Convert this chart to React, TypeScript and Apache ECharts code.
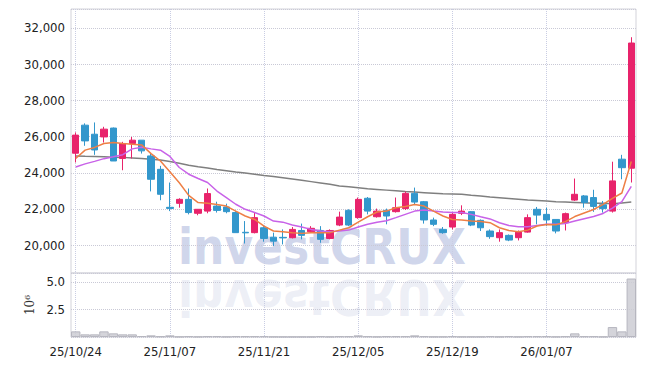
import { useEffect, useRef } from 'react';
import * as echarts from 'echarts';

const dates = [
  '25/10/24', '25/10/27', '25/10/28', '25/10/29', '25/10/30', '25/10/31', '25/11/03', '25/11/04', '25/11/05', '25/11/06',
  '25/11/07', '25/11/10', '25/11/11', '25/11/12', '25/11/13', '25/11/14', '25/11/17', '25/11/18', '25/11/19', '25/11/20',
  '25/11/21', '25/11/24', '25/11/25', '25/11/26', '25/11/27', '25/11/28', '25/12/01', '25/12/02', '25/12/03', '25/12/04',
  '25/12/05', '25/12/08', '25/12/09', '25/12/10', '25/12/11', '25/12/12', '25/12/15', '25/12/16', '25/12/17', '25/12/18',
  '25/12/19', '25/12/22', '25/12/23', '25/12/24', '25/12/26', '25/12/29', '25/12/30', '26/01/02', '26/01/05', '26/01/06',
  '26/01/07', '26/01/08', '26/01/09', '26/01/12', '26/01/13', '26/01/14', '26/01/15', '26/01/16', '26/01/19', '26/01/20',
];

const opens = [
  25080, 26630, 26130, 25980, 26470, 24790, 25620, 25800, 24930, 24190,
  22090, 22310, 22530, 21760, 21880, 22160, 22110, 21800, 20710, 20690,
  20960, 20440, 20430, 20410, 20810, 20740, 20810, 20370, 21110, 21920,
  21520, 22590, 21570, 21920, 21850, 22020, 22860, 22400, 21390, 20870,
  21000, 21760, 21850, 21370, 20780, 20410, 20540, 20410, 20720, 21980,
  21700, 21420, 21240, 22490, 22720, 22630, 22230, 21880, 24750, 24250,
];
const closes = [
  26080, 25760, 25260, 26410, 24650, 25620, 25800, 25210, 23640, 22810,
  22030, 22530, 21800, 21980, 22850, 21920, 21850, 20690, 20680, 21520,
  20370, 20220, 20400, 20870, 20540, 20930, 20320, 20810, 21550, 21110,
  22530, 21880, 21880, 21610, 22070, 22860, 22380, 21390, 21150, 20690,
  21700, 21880, 21110, 20960, 20470, 20690, 20280, 20720, 21520, 21660,
  21390, 20780, 21740, 22810, 22350, 22140, 22020, 23550, 24280, 31170,
];
const lows = [
  24570, 25490, 24990, 25670, 24650, 24140, 24790, 25060, 22970, 22480,
  21880, 22070, 21700, 21650, 21760, 21800, 21760, 20690, 20090, 20650,
  20190, 19950, 20040, 20370, 20320, 20690, 20130, 20320, 21050, 21050,
  21460, 21700, 21520, 21150, 21800, 21940, 22260, 21190, 21050, 20630,
  20870, 21660, 21050, 20780, 20350, 20190, 20220, 20260, 20690, 21150,
  21050, 20650, 20810, 22440, 22070, 21840, 21800, 21800, 23640, 23460,
];
const highs = [
  26230, 26730, 26780, 26540, 26500, 25710, 25980, 25800, 25060, 24380,
  23460, 22590, 23130, 21980, 23130, 22400, 22290, 21880, 21330, 21800,
  21050, 20690, 20870, 21000, 21190, 21050, 21050, 20870, 21850, 21980,
  22630, 22660, 22020, 22020, 22630, 22960, 23180, 22440, 21520, 21000,
  21800, 22200, 21880, 21420, 20870, 20870, 20590, 20810, 21700, 22110,
  22070, 21420, 21800, 23680, 22770, 23060, 22440, 24610, 24990, 31490,
];

const ma5 = [
  24790, 25250, 25400, 25620, 25670, 25620, 25580, 25540, 25060, 24650,
  24050, 23450, 22750, 22350, 22310, 22250, 22160, 21880, 21610, 21420,
  21050, 20780, 20740, 20690, 20650, 20690, 20690, 20690, 20830, 20960,
  21270, 21570, 21830, 21880, 22070, 22130, 22250, 22160, 21880, 21610,
  21420, 21390, 21330, 21300, 21240, 20960, 20810, 20740, 20830, 21060,
  21140, 21120, 21300, 21580, 21780, 21970, 22250, 22580, 22880, 24620,
];
const ma10 = [
  24320, 24490, 24630, 24780, 24880, 25000, 25320, 25410, 25320, 25250,
  24900, 24290, 23920, 23680, 23460, 22990, 22630, 22260, 21980, 21800,
  21610, 21330, 21270, 21110, 21000, 20870, 20780, 20740, 20780, 20830,
  21000, 21150, 21270, 21350, 21520, 21700, 21880, 21940, 21880, 21830,
  21800, 21800, 21700, 21570, 21450, 21240, 21090, 21020, 21020, 21090,
  21150, 21150, 21200, 21330, 21460, 21580, 21750, 22050, 22400, 23250,
];
const ma60 = [
  24930, 24910, 24900, 24880, 24860, 24850, 24820, 24790, 24750, 24700,
  24620, 24520, 24420, 24330, 24260, 24180, 24110, 24040, 23980, 23920,
  23850, 23790, 23720, 23650, 23580, 23510, 23440, 23360, 23270, 23220,
  23170, 23110, 23080, 23040, 23000, 22960, 22930, 22900, 22870, 22840,
  22830, 22810, 22760, 22720, 22660, 22620, 22580, 22540, 22500, 22470,
  22440, 22400, 22380, 22360, 22340, 22320, 22310, 22290, 22330, 22380,
];
const volumes = [
  510000, 240000, 240000, 510000, 330000, 240000, 240000, 90000, 150000, 60000,
  150000, 30000, 70000, 30000, 70000, 70000, 30000, 70000, 70000, 70000,
  70000, 30000, 20000, 20000, 20000, 20000, 70000, 30000, 70000, 70000,
  150000, 70000, 30000, 70000, 70000, 70000, 150000, 70000, 30000, 30000,
  70000, 30000, 30000, 30000, 70000, 30000, 70000, 30000, 70000, 70000,
  70000, 30000, 70000, 330000, 70000, 70000, 30000, 900000, 510000, 5300000,
];

const labelFont = "'DejaVu Sans Condensed', 'Liberation Sans', sans-serif";
const markFont = "'DejaVu Sans', 'Liberation Sans', sans-serif";

export default function App() {
  const ref = useRef<HTMLDivElement>(null);
  useEffect(() => {
    const chart = echarts.init(ref.current!, null, { renderer: 'svg' });
    const candleData = dates.map((_, i) => [opens[i], closes[i], lows[i], highs[i]]);
    const vSplit = {
      show: true,
      interval: 9,
      alignWithLabel: true,
      lineStyle: { color: '#c9cde3', type: 'dotted', width: 1 },
    };
    chart.setOption({
      animation: false,
      backgroundColor: '#fff',
      graphic: [
        {
          type: 'text',
          x: 178,
          y: 271,
          scaleX: 0.88,
          z: 0,
          silent: true,
          style: {
            text: 'investCRUX',
            fontSize: 50,
            fontWeight: 'bold',
            fontFamily: markFont,
            fill: 'rgba(190,198,228,0.72)',
            align: 'left',
            verticalAlign: 'bottom',
          },
        },
        {
          type: 'text',
          x: 178,
          y: 273,
          scaleX: 0.88,
          scaleY: -1,
          z: 0,
          silent: true,
          style: {
            text: 'investCRUX',
            fontSize: 50,
            fontWeight: 'bold',
            fontFamily: markFont,
            fill: 'rgba(200,205,228,0.32)',
            align: 'left',
            verticalAlign: 'bottom',
          },
        },
      ],
      grid: [
        { left: 71, right: 9, top: 9, height: 264, show: true, borderColor: '#d3d3da', borderWidth: 1, backgroundColor: 'transparent' },
        { left: 71, right: 9, top: 273, height: 64, show: true, borderColor: '#d3d3da', borderWidth: 1, backgroundColor: 'transparent' },
      ],
      xAxis: [
        {
          type: 'category',
          gridIndex: 0,
          data: dates,
          boundaryGap: true,
          axisLine: { show: false },
          axisTick: { show: false },
          axisLabel: { show: false },
          splitLine: vSplit,
        },
        {
          type: 'category',
          gridIndex: 1,
          data: dates,
          boundaryGap: true,
          axisLine: { show: false },
          axisTick: { show: false },
          axisLabel: {
            show: true,
            interval: 9,
            color: '#222',
            fontSize: 13,
            fontFamily: labelFont,
            margin: 8,
          },
          splitLine: vSplit,
        },
      ],
      yAxis: [
        {
          type: 'value',
          gridIndex: 0,
          min: 18460,
          max: 33050,
          splitNumber: 7,
          axisLine: { show: false },
          axisTick: { show: false },
          axisLabel: {
            showMinLabel: false,
            showMaxLabel: false,
            color: '#222',
            fontSize: 13,
            fontFamily: labelFont,
            margin: 6,
            formatter: (v: number) => (v % 2000 === 0 ? v.toLocaleString('en-US') : ''),
          },
          splitLine: { show: true, lineStyle: { color: '#c9c9d6', type: 'dotted' } },
        },
        {
          type: 'value',
          gridIndex: 1,
          min: 0,
          max: 5800000,
          interval: 2500000,
          name: '10⁶',
          nameLocation: 'middle',
          nameGap: 34,
          nameRotate: 90,
          nameTextStyle: { color: '#333', fontSize: 12, fontFamily: "'DejaVu Serif', serif" },
          axisLine: { show: false },
          axisTick: { show: false },
          axisLabel: {
            showMinLabel: false,
            showMaxLabel: false,
            color: '#222',
            fontSize: 13,
            fontFamily: labelFont,
            margin: 6,
            formatter: (v: number) => (v > 0 && v % 2500000 === 0 ? (v / 1e6).toFixed(1) : ''),
          },
          splitLine: { show: true, lineStyle: { color: '#c9c9d6', type: 'dotted' } },
        },
      ],
      series: [
        {
          type: 'line',
          name: 'MA60',
          xAxisIndex: 0,
          yAxisIndex: 0,
          data: ma60,
          symbol: 'none',
          z: 3,
          lineStyle: { color: '#7f7f7f', width: 1.5 },
        },
        {
          type: 'candlestick',
          xAxisIndex: 0,
          yAxisIndex: 0,
          data: candleData,
          barWidth: '72%',
          z: 4,
          itemStyle: {
            color: '#e8236b',
            color0: '#3397cc',
            borderColor: '#e8236b',
            borderColor0: '#3397cc',
            borderWidth: 1,
          },
        },
        {
          type: 'line',
          name: 'MA10',
          xAxisIndex: 0,
          yAxisIndex: 0,
          data: ma10,
          symbol: 'none',
          z: 5,
          lineStyle: { color: '#c862e8', width: 1.5 },
        },
        {
          type: 'line',
          name: 'MA5',
          xAxisIndex: 0,
          yAxisIndex: 0,
          data: ma5,
          symbol: 'none',
          z: 6,
          lineStyle: { color: '#ee7f45', width: 1.5 },
        },
        {
          type: 'bar',
          xAxisIndex: 1,
          yAxisIndex: 1,
          data: volumes,
          barCategoryGap: '0%',
          z: 3,
          itemStyle: { color: 'rgba(205,205,212,0.85)', borderColor: '#b6b6bf', borderWidth: 1 },
        },
      ],
    });
    return () => chart.dispose();
  }, []);
  return <div ref={ref} style={{ position: 'fixed', left: 0, top: 0, width: 645, height: 366 }} />;
}
